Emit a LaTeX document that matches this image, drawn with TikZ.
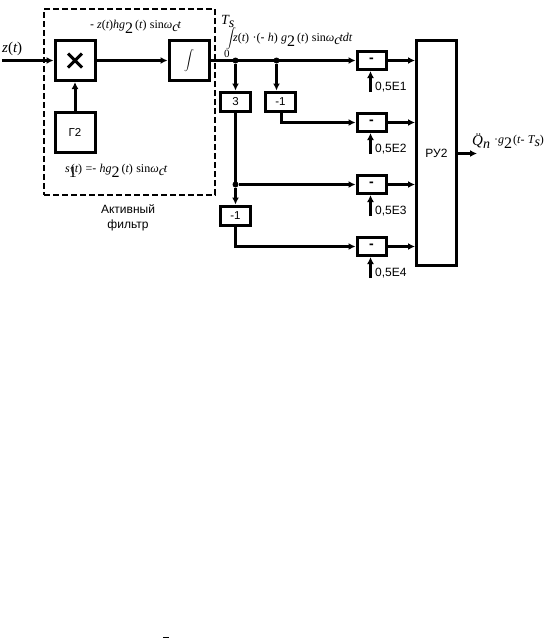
\documentclass[tikz,border=0pt]{standalone}
\usepackage{fontspec}
\setmainfont{Liberation Sans}
\newfontfamily\mathser{Liberation Serif}
\usetikzlibrary{arrows.meta}
\newcommand{\mi}[1]{{\mathser\itshape #1}}
\newcommand{\mr}[1]{{\mathser\upshape #1}}
\newcommand{\sbb}[1]{\raisebox{-5pt}{\fontsize{16}{16}\selectfont\mr{#1}}}
\newcommand{\sbc}[1]{\raisebox{-3pt}{\fontsize{14}{14}\selectfont\mi{#1}}}
\tikzset{
  x=1pt,y=-1pt,
  blk/.style={draw=black,line width=3pt,fill=white,inner sep=0pt,minimum width=#1,font=\fontsize{11.5}{12}\selectfont},
  blk/.default=40pt,
  big/.style={blk=40pt,minimum height=40pt},
  small/.style={blk=30pt,minimum height=19pt},
  sub/.style={blk=29pt,minimum height=18pt,font=\bfseries\fontsize{14}{14}\selectfont},
  wire/.style={line width=3pt,-{Latex[length=7pt,width=7pt]}},
  line/.style={line width=3pt},
  lab/.style={inner sep=0pt,font=\fontsize{12}{14}\selectfont},
  eq/.style={inner sep=0pt,anchor=west,font=\fontsize{12}{14}\selectfont},
  dot/.style={circle,fill=black,inner sep=0pt,minimum size=6pt},
}
\begin{document}
\begin{tikzpicture}
\path[use as bounding box,fill=white] (0,0) rectangle (547,638);
\node[draw=black,dash pattern=on 6pt off 3pt,line width=1.1pt,minimum width=171pt,minimum height=186pt,inner sep=0pt] (filter) at (129.5,102) {};
\node[big] (mul) at (75,60.5) {};
\draw[line width=3pt] (mul.center)+(-7,-7) -- +(7,7) (mul.center)+(-7,7) -- +(7,-7);
\node[big,font=\fontsize{11}{12}\selectfont\mathser] (int) at (189,60.5) {$\displaystyle\int$};
\node[big] (g2) at (75,132.5) {Г2};
\node[small] (b3) at (235.5,101.5) {3};
\node[small] (m1) at (280.5,101.5) {-1};
\node[small] (m2) at (235.5,215.5) {-1};
\node[sub] (s1) at (371.5,60.5) {-};
\node[sub] (s2) at (371.5,122.5) {-};
\node[sub] (s3) at (371.5,184.5) {-};
\node[sub] (s4) at (371.5,246.5) {-};
\node[draw=black,line width=3pt,fill=white,inner sep=0pt,minimum width=40pt,minimum height=225pt,font=\fontsize{12}{14}\selectfont] (ru) at (436.5,153) {РУ2};
\coordinate (in) at (2,60.5);
\coordinate (out) at (477,153.5);
\coordinate (e1) at (370.5,92);
\coordinate (e2) at (370.5,154);
\coordinate (e3) at (370.5,216);
\coordinate (e4) at (370.5,278);
\node[dot] (d1) at (235.5,60.5) {};
\node[dot] (d2) at (276.5,60.5) {};
\node[dot] (d3) at (235.5,184.5) {};
\draw[wire] (in) -- (mul.west |- in);
\draw[wire] (mul) -- (int);
\draw[wire] (g2) -- (mul);
\draw[wire] (int.east) -- (s1.west);
\draw[wire] (d1) -- (b3.north);
\draw[wire] (d2) -- (d2 |- m1.north);
\draw[line] (b3.south) -- (d3.center);
\draw[wire] (d3) -- (m2.north);
\draw[wire] (d3) -- (d3 -| s3.west);
\draw[wire] ([xshift=1pt]m1.south) |- (s2.west);
\draw[wire] (m2.south) |- (s4.west);
\draw[wire] (s1.east) -- (s1.east -| ru.west);
\draw[wire] (s2.east) -- (s2.east -| ru.west);
\draw[wire] (s3.east) -- (s3.east -| ru.west);
\draw[wire] (s4.east) -- (s4.east -| ru.west);
\draw[wire] (e1) -- (e1 |- s1.south);
\draw[wire] (e2) -- (e2 |- s2.south);
\draw[wire] (e3) -- (e3 |- s3.south);
\draw[wire] (e4) -- (e4 |- s4.south);
\draw[wire] (ru.east |- out) -- (out);
\node[lab,anchor=west] (t1) at (375,87) {0,5E1};
\node[lab,anchor=west] (t2) at (375,149.5) {0,5E2};
\node[lab,anchor=west] (t3) at (375,211.5) {0,5E3};
\node[lab,anchor=west] (t4) at (375,273.5) {0,5E4};
\node[lab,align=center,font=\fontsize{12}{15.5}\selectfont] (cap) at (128,218) {Активный\\фильтр};
\node[eq,font=\fontsize{15}{16}\selectfont] (zt) at (2,49) {\mi{z}\mr{(}\mi{t}\mr{)}};
\node[eq] (eqa) at (90,26.5) {-\hspace{3pt}\mi{z}\mr{(}\mi{t}\mr{)}\mi{hg}\sbb{2}\hspace{2pt}\mr{(}\mi{t}\mr{)} \mr{sin}\mi{ω}\sbc{c}\hspace{-1pt}\mi{t}};
\node[eq] (eqb) at (65,171) {\mi{s}\hspace{-1pt}\sbb{1}\hspace{-6pt}\mr{(}\mi{t}\mr{)} \mr{=}- \mi{hg}\sbb{2}\hspace{2pt}\mr{(}\mi{t}\mr{)} \mr{sin}\mi{ω}\sbc{c}\hspace{-1pt}\mi{t}};
\node[eq,font=\fontsize{14}{14}\selectfont] (ts) at (221,21) {\mi{T}\sbc{s}};
\node[eq,font=\fontsize{10}{12}\selectfont\mathser] (intb) at (226,39) {$\displaystyle\int$};
\node[eq,font=\fontsize{11}{12}\selectfont\mathser] (zero) at (224,54) {0};
\node[eq] (eqc) at (233,39.5) {\mi{z}\mr{(}\mi{t}\mr{)} \mr{·(}- \mi{h}\mr{)} \mi{g}\sbb{2}\hspace{2pt}\mr{(}\mi{t}\mr{)} \mr{sin}\mi{ω}\sbc{c}\hspace{-1pt}\mi{tdt}};
\node[eq,font=\fontsize{15}{16}\selectfont] (q) at (472,141) {\mi{Q̈}\sbc{n}};
\node[eq] (eqd) at (494,142) {\mr{·}\mi{g}\sbb{2}\hspace{1pt}\mr{(}\mi{t}\mr{-} \mi{T}\sbc{s}\mr{)}};
\fill (163,636.5) rectangle (169,638);
\end{tikzpicture}
\end{document}
